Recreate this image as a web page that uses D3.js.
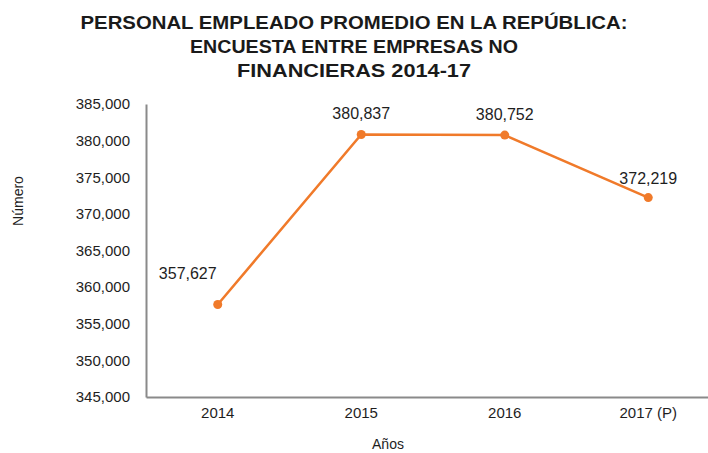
<!DOCTYPE html>
<html>
<head>
<meta charset="utf-8">
<script src="https://cdn.jsdelivr.net/npm/d3@7"></script>
<style>
  body { margin: 0; background: #fff; }
  svg { display: block; font-family: "Liberation Sans", Arial, sans-serif; }
</style>
</head>
<body>
<div id="chart"></div>
<script>
// data
var years = ["2014", "2015", "2016", "2017 (P)"];
var personal = [357627, 380837, 380752, 372219];
var yTicks = [345000, 350000, 355000, 360000, 365000, 370000, 375000, 380000, 385000];
var titleLines = [
    "PERSONAL EMPLEADO PROMEDIO EN LA REPÚBLICA:",
    "ENCUESTA ENTRE EMPRESAS NO",
    "FINANCIERAS 2014-17"
];

var width = 708, height = 453;
var margin = { top: 104, left: 146, bottom: 56 };

var svg = d3.select("#chart").append("svg")
    .attr("width", width)
    .attr("height", height);

// title
svg.append("g").selectAll("text")
    .data(titleLines)
    .enter().append("text")
        .attr("x", 354)
        .attr("y", function(d, i) { return 29 + i * 24; })
        .attr("text-anchor", "middle")
        .attr("textLength", function(d, i) { return [547, 328, 234][i]; })
        .attr("lengthAdjust", "spacingAndGlyphs")
        .style("font-weight", "bold")
        .style("font-size", "19px")
        .style("fill", "#1a1a1a")
        .text(function(d) { return d; });

// scales
var x = d3.scaleBand()
    .domain(years)
    .range([margin.left, margin.left + 574]);

var y = d3.scaleLinear()
    .domain([345000, 385000])
    .range([height - margin.bottom, margin.top]);

var fmt = d3.format(",");

// y axis
var yAxis = svg.append("g")
    .attr("transform", "translate(" + margin.left + ",0)")
    .call(d3.axisLeft(y).tickValues(yTicks).tickFormat(fmt).tickSize(0).tickPadding(16));
yAxis.select(".domain").attr("stroke", "#8a8a8a").attr("stroke-width", 2);
yAxis.selectAll("text").style("font-size", "15px").style("fill", "#1e1e1e")
    .style("font-family", "Liberation Sans, Arial, sans-serif");

// x axis
var xAxis = svg.append("g")
    .attr("transform", "translate(0," + (height - margin.bottom) + ")")
    .call(d3.axisBottom(x).tickSize(0).tickPadding(10));
xAxis.select(".domain").attr("stroke", "#8a8a8a").attr("stroke-width", 2);
xAxis.selectAll("text").style("font-size", "15px").style("fill", "#1e1e1e")
    .style("font-family", "Liberation Sans, Arial, sans-serif");

// axis titles
svg.append("text")
    .attr("transform", "translate(23,201) rotate(-90)")
    .attr("text-anchor", "middle")
    .style("font-size", "14px")
    .style("fill", "#1e1e1e")
    .text("Número");

svg.append("text")
    .attr("x", 388)
    .attr("y", 449)
    .attr("text-anchor", "middle")
    .style("font-size", "14px")
    .style("fill", "#1e1e1e")
    .text("Años");

// line
var cx = function(d, i) { return x(years[i]) + x.bandwidth() / 2; };
var line = d3.line()
    .x(cx)
    .y(function(d) { return y(d); });

svg.append("path")
    .datum(personal)
    .attr("d", line)
    .attr("fill", "none")
    .attr("stroke", "#f07a2a")
    .attr("stroke-width", 2.5);

svg.append("g").selectAll("circle")
    .data(personal)
    .enter().append("circle")
        .attr("cx", cx)
        .attr("cy", function(d) { return y(d); })
        .attr("r", 4.5)
        .attr("fill", "#f07a2a");

// data labels
var labelDx = [-30, 0, 0, 0];
var labelDy = [-26, -15, -15, -14];
svg.append("g").selectAll("text")
    .data(personal)
    .enter().append("text")
        .attr("x", function(d, i) { return cx(d, i) + labelDx[i]; })
        .attr("y", function(d, i) { return y(d) + labelDy[i]; })
        .attr("text-anchor", "middle")
        .style("font-size", "16px")
        .style("fill", "#1e1e1e")
        .text(function(d) { return fmt(d); });
</script>
</body>
</html>
